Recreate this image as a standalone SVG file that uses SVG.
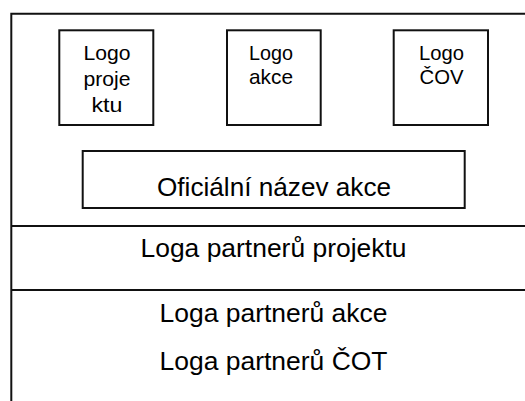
<svg xmlns="http://www.w3.org/2000/svg" width="525" height="401" viewBox="0 0 525 401">
<style>
.ln{stroke:#111;stroke-width:2;fill:none}
.bx{stroke:#111;stroke-width:2;fill:#fff}
.t{font-family:"Liberation Sans",Arial,sans-serif;fill:#000;text-anchor:middle}
.s{font-size:21px}
.b{font-size:26px}
</style>
<rect width="525" height="401" fill="#fff"/>
<g id="frame">
<path class="ln" d="M11.3 401V13.7H525M11.3 226H525M11.3 290H525"/>
</g>
<g id="logo-projektu">
<rect class="bx" x="59.3" y="30.3" width="94" height="94.7"/>
<text class="t s" x="107" y="60" textLength="47" lengthAdjust="spacingAndGlyphs">Logo</text>
<text class="t s" x="107" y="86" textLength="47" lengthAdjust="spacingAndGlyphs">proje</text>
<text class="t s" x="107" y="112" textLength="31" lengthAdjust="spacingAndGlyphs">ktu</text>
</g>
<g id="logo-akce">
<rect class="bx" x="227" y="30.3" width="93.7" height="94.7"/>
<text class="t s" x="271" y="59.5" textLength="44" lengthAdjust="spacingAndGlyphs">Logo</text>
<text class="t s" x="271" y="84" textLength="44" lengthAdjust="spacingAndGlyphs">akce</text>
</g>
<g id="logo-cov">
<rect class="bx" x="393.7" y="30.3" width="94.3" height="94.7"/>
<text class="t s" x="441.5" y="59.5" textLength="45" lengthAdjust="spacingAndGlyphs">Logo</text>
<text class="t s" x="441.5" y="84" textLength="44" lengthAdjust="spacingAndGlyphs">ČOV</text>
</g>
<g id="nazev-akce">
<rect class="bx" x="82.7" y="151" width="382" height="57"/>
<text class="t b" x="274" y="196" textLength="234" lengthAdjust="spacingAndGlyphs">Oficiální název akce</text>
</g>
<g id="partneri-projektu">
<text class="t b" x="273.5" y="257" textLength="266" lengthAdjust="spacingAndGlyphs">Loga partnerů projektu</text>
</g>
<g id="partneri-akce">
<text class="t b" x="273.5" y="322" textLength="228" lengthAdjust="spacingAndGlyphs">Loga partnerů akce</text>
</g>
<g id="partneri-cot">
<text class="t b" x="273.5" y="369.5" textLength="228" lengthAdjust="spacingAndGlyphs">Loga partnerů ČOT</text>
</g>
</svg>
